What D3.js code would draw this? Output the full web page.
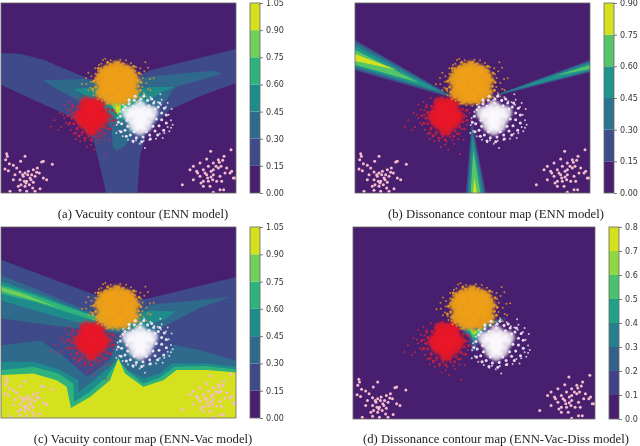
<!DOCTYPE html>
<html>
<head>
<meta charset="utf-8">
<script src="https://cdn.jsdelivr.net/npm/d3@7"></script>
<style>
  html, body { margin: 0; padding: 0; background: #fff; }
  svg { display: block; filter: blur(0.35px); }
</style>
</head>
<body>
<div id="chart"></div>
<script>
// contour band colours and tick labels for each colorbar
var ticksSeven = [0, 0.15, 0.30, 0.45, 0.60, 0.75, 0.90, 1.05];
var ticksSix = [0, 0.15, 0.30, 0.45, 0.60, 0.75, 0.90];
var ticksEight = [0, 0.1, 0.2, 0.3, 0.4, 0.5, 0.6, 0.7, 0.8];
var colorsSeven = ["#481e6e", "#3e4a89", "#2f6a8d", "#1f8c8c", "#2eb37c", "#6fcf58", "#d5e11f"];
var colorsSix = ["#481e6e", "#3d4d8a", "#2b748e", "#20938c", "#55c667", "#d5e11f"];
var colorsEight = ["#481e6e", "#424086", "#35608d", "#277f8e", "#1fa088", "#4ac16d", "#8fd744", "#d5e11f"];

// contour regions, [band, outline] on a 705 x 570 plot grid
var vacuityEnn = [
  [1, [[0,150],[57,152],[127,170],[257,225],[347,250],[447,202],[705,138],[705,240],[597,280],[507,320],[437,390],[417,460],[409,570],[315,570],[297,490],[277,410],[217,345],[97,290],[0,245]]],
  [2, [[127,232],[247,228],[347,250],[447,220],[637,203],[662,212],[587,235],[522,252],[497,290],[397,390],[372,430],[347,443],[335,430],[332,375],[297,330],[207,280],[162,255]]],
  [3, [[217,258],[297,252],[347,275],[447,252],[522,252],[487,265],[417,310],[357,360],[327,330],[277,290]]],
  [4, [[297,270],[347,285],[417,270],[377,320],[352,340],[332,310]]],
  [5, [[332,295],[362,295],[360,325],[350,335],[338,318]]],
  [6, [[343,305],[358,305],[355,328],[348,332]]]
];
var dissonanceEnn = [
  [1, [[0,110],[310,290],[0,202]]],
  [1, [[400,285],[705,170],[705,208]]],
  [1, [[350,355],[393,570],[333,570]]],
  [2, [[0,118],[285,278],[0,196]]],
  [2, [[420,277],[705,175],[705,205]]],
  [2, [[351,370],[388,570],[337,570]]],
  [3, [[0,128],[260,268],[0,190]]],
  [3, [[470,262],[705,180],[705,202]]],
  [3, [[353,400],[382,570],[342,570]]],
  [4, [[0,140],[195,240],[0,185]]],
  [4, [[600,218],[705,186],[705,198]]],
  [4, [[355,440],[376,570],[347,570]]],
  [5, [[0,153],[125,200],[0,174]]],
  [5, [[358,525],[366,570],[354,570]]]
];
var vacuityEnnVac = [
  [1, [[0,98],[267,197],[357,227],[447,212],[705,149],[705,570],[0,570]]],
  [2, [[0,144],[97,182],[257,249],[347,287],[447,232],[687,209],[597,242],[507,287],[437,327],[357,317],[277,307],[177,297],[0,272]]],
  [2, [[0,354],[117,339],[177,377],[259,447],[327,397],[352,327],[397,387],[437,407],[497,377],[517,352],[597,367],[705,399],[705,570],[0,570]]],
  [3, [[0,162],[117,202],[257,257],[347,282],[447,249],[522,252],[497,272],[417,302],[357,307],[277,297],[147,262],[0,219]]],
  [3, [[0,402],[97,402],[177,427],[232,457],[232,492],[267,467],[327,417],[352,387],[377,427],[427,452],[477,437],[512,407],[617,407],[705,417],[705,570],[0,570]]],
  [4, [[0,172],[97,202],[247,255],[347,282],[427,272],[347,297],[257,272],[97,222],[0,199]]],
  [4, [[0,427],[97,417],[172,437],[217,467],[219,522],[267,492],[317,447],[352,397],[382,432],[427,467],[477,449],[522,417],[617,415],[705,425],[705,570],[0,570]]],
  [5, [[0,179],[60,197],[175,242],[60,208],[0,192]]],
  [6, [[0,442],[97,437],[167,457],[197,477],[210,540],[267,507],[327,457],[352,392],[372,437],[427,477],[487,457],[527,427],[617,427],[705,434],[705,570],[0,570]]]
];
var dissonanceEnnVacDiss = [
  [1, [[284,275],[321,279],[360,294],[389,279],[447,268],[442,279],[399,299],[370,324],[360,369],[345,369],[336,329],[307,299]]],
  [2, [[292,279],[323,284],[360,299],[394,282],[437,272],[399,294],[368,324],[355,364],[342,329],[311,299]]],
  [3, [[306,286],[326,292],[360,302],[399,284],[423,276],[389,296],[365,324],[353,349],[345,329],[321,304]]],
  [4, [[321,294],[360,306],[394,289],[363,324],[352,339],[336,309]]],
  [5, [[336,299],[360,306],[379,299],[360,322],[350,329]]],
  [6, [[342,304],[360,309],[370,304],[355,319],[348,319]]],
  [7, [[352,309],[360,311],[355,316]]]
];

// scatter points on the same grid; core lists are the dense middle of each cloud
var orangeCore = [[347,240],[325,228],[370,228],[347,212],[318,252],[378,252],[347,268],[325,205],[372,205],[302,232],[394,232],[306,268],[392,268],[328,282],[368,282],[347,195],[325,250],[370,250],[347,225],[347,284],[312,212],[384,212]];
var orangeMid = [[290,215],[296,238],[284,252],[288,268],[298,282],[312,290],[328,296],[346,298],[364,296],[380,290],[396,280],[406,266],[412,250],[410,232],[404,216],[394,202],[380,192],[364,184],[346,182],[328,184],[312,192],[300,202],[278,235],[275,258],[420,238],[418,262],[414,210],[398,190],[352,178],[320,178],[292,196],[300,250],[306,222],[318,238],[334,214],[358,204],[382,222],[388,246],[374,270],[356,258],[336,272],[314,272],[340,236],[362,238],[402,250],[296,262],[286,226],[408,282],[322,300],[372,300]];
var orangeScatter = [[313,167],[375,172],[390,180],[433,178],[294,186],[342,176],[405,192],[262,209],[430,205],[418,196],[447,228],[458,226],[271,220],[256,243],[262,262],[270,236],[283,196],[301,182],[329,172],[358,170],[368,181],[388,192],[402,204],[420,214],[436,240],[442,258],[428,270],[417,283],[408,296],[290,289],[278,276],[268,254],[283,212],[300,196],[317,188],[336,190],[354,192],[374,188],[282,232],[292,204],[416,232],[424,252],[410,268],[276,265],[287,278],[302,293],[315,302],[334,306],[352,308],[369,303],[388,297],[402,284],[243,244],[449,262],[436,280],[255,225],[441,194],[425,225],[306,171]];
var redCore = [[272,335],[252,322],[292,322],[272,308],[238,340],[306,340],[272,362],[250,358],[294,358],[258,302],[290,302],[272,378],[252,340],[292,340],[272,350],[272,322]];
var redMid = [[230,310],[218,328],[212,345],[218,362],[228,378],[244,388],[262,394],[282,392],[300,384],[314,372],[324,356],[328,338],[322,318],[310,304],[296,294],[276,290],[256,290],[240,298],[228,342],[232,360],[242,322],[304,320],[310,358],[262,378],[286,378],[206,360],[200,338],[214,312],[234,398],[252,406],[270,410],[296,400],[312,392],[328,378],[336,352],[334,322],[224,390]];
var redScatter = [[205,297],[227,286],[242,288],[260,284],[290,280],[315,290],[215,305],[198,320],[186,335],[160,352],[150,371],[190,345],[202,365],[172,380],[228,375],[210,380],[242,395],[262,402],[285,402],[305,392],[320,378],[335,365],[335,340],[338,322],[328,302],[238,415],[258,432],[270,425],[298,422],[315,453],[207,335],[195,360],[218,392],[233,400],[252,413],[275,415],[292,412],[310,408],[344,330],[190,305],[280,440],[208,322],[180,372],[224,408],[348,352],[176,330],[326,410]];
var whiteCore = [[417,335],[400,325],[434,325],[417,312],[392,345],[444,345],[417,358],[402,368],[434,368],[382,330],[452,328],[417,378],[417,345]];
var whiteMid = [[366,320],[358,340],[362,362],[372,382],[388,396],[406,404],[426,402],[446,396],[462,384],[474,368],[482,350],[482,330],[472,312],[458,300],[440,292],[420,288],[400,292],[384,302],[372,312],[378,352],[380,370],[400,386],[436,386],[456,370],[466,348],[462,318],[444,308],[418,300],[396,310],[352,358],[360,386],[376,400],[396,414],[422,416],[448,408],[470,396],[488,382],[496,360],[496,336],[490,316],[476,300],[452,288],[428,280],[402,280],[384,290]];
var whiteScatter = [[470,298],[478,274],[482,290],[448,283],[430,275],[404,280],[384,295],[366,305],[358,326],[350,345],[347,366],[355,384],[365,400],[381,410],[397,418],[416,422],[432,435],[445,410],[465,407],[485,405],[490,390],[505,385],[515,365],[510,352],[503,335],[512,318],[495,312],[480,305],[460,295],[440,295],[415,292],[500,300],[510,374],[500,372],[346,390],[405,412],[428,413],[476,392]];
var pinkLeft = [[17,452],[19,460],[14,470],[72,460],[59,475],[122,477],[127,475],[154,484],[25,482],[37,487],[12,498],[22,503],[47,495],[57,507],[72,510],[82,505],[97,500],[109,495],[115,510],[102,520],[87,525],[67,520],[57,530],[37,530],[77,535],[97,538],[127,525],[137,530],[117,557],[102,565],[77,565],[57,562],[72,550],[52,550],[27,565],[65,515],[80,515],[92,515],[70,535],[85,545],[95,555],[60,545],[42,515],[107,508],[75,540],[90,530]];
var pinkRight = [[629,445],[690,440],[669,460],[652,470],[637,480],[617,468],[597,480],[577,490],[567,500],[587,505],[607,500],[622,490],[637,500],[652,495],[677,495],[692,505],[697,525],[672,510],[657,520],[637,515],[617,515],[597,520],[577,530],[607,535],[622,535],[647,535],[662,535],[544,545],[607,550],[627,550],[657,560],[637,568],[687,510],[702,525],[630,505],[645,490],[620,525],[612,510],[655,478],[600,540],[635,530],[665,472],[660,490],[668,560],[590,510],[630,522]];

// where each panel sits on the page
var panels = [
  { x: 1, y: 3, w: 235, h: 190, cbx: 250, ticks: ticksSeven, colors: colorsSeven, regions: vacuityEnn, cap: "(a) Vacuity contour (ENN model)", capx: 143, capy: 218 },
  { x: 355, y: 3, w: 235, h: 190, cbx: 604, ticks: ticksSix, colors: colorsSix, regions: dissonanceEnn, cap: "(b) Dissonance contour map (ENN model)", capx: 496, capy: 218 },
  { x: 1, y: 227, w: 235, h: 191, cbx: 250, ticks: ticksSeven, colors: colorsSeven, regions: vacuityEnnVac, cap: "(c) Vacuity contour map (ENN-Vac model)", capx: 143, capy: 443 },
  { x: 353, y: 227, w: 242, h: 192, cbx: 609, ticks: ticksEight, colors: colorsEight, regions: dissonanceEnnVacDiss, cap: "(d) Dissonance contour map (ENN-Vac-Diss model)", capx: 496, capy: 443 }
];

var svg = d3.select("#chart")
  .append("svg")
  .attr("width", 640)
  .attr("height", 446);

// soft edge for the dense part of the clouds
svg.append("defs")
  .append("filter")
  .attr("id", "soft")
  .attr("x", "-30%")
  .attr("y", "-30%")
  .attr("width", "160%")
  .attr("height", "160%")
  .append("feGaussianBlur")
  .attr("stdDeviation", 1.8);

panels.forEach(function(p) {
  var xScale = d3.scaleLinear().domain([0, 705]).range([p.x, p.x + p.w]);
  var yScale = d3.scaleLinear().domain([0, 570]).range([p.y, p.y + p.h]);
  var outline = d3.line()
    .x(function(d) { return xScale(d[0]); })
    .y(function(d) { return yScale(d[1]); })
    .curve(d3.curveLinearClosed);

  var g = svg.append("g");

  // background band
  g.append("rect")
    .attr("x", p.x)
    .attr("y", p.y)
    .attr("width", p.w)
    .attr("height", p.h)
    .attr("fill", p.colors[0]);

  g.selectAll("path.band")
    .data(p.regions)
    .enter()
    .append("path")
    .attr("class", "band")
    .attr("d", function(d) { return outline(d[1]); })
    .attr("fill", function(d) { return p.colors[d[0]]; });

  // the scatter clouds
  function drawDots(points, color, r, opacity, soft) {
    var dots = g.append("g");
    if (soft) dots.attr("filter", "url(#soft)");
    dots.selectAll("circle")
      .data(points)
      .enter()
      .append("circle")
      .attr("cx", function(d) { return xScale(d[0]); })
      .attr("cy", function(d) { return yScale(d[1]); })
      .attr("r", r)
      .attr("fill", color)
      .attr("fill-opacity", opacity);
  }
  drawDots(redCore, "#e81426", 7, 0.9, true);
  drawDots(redMid, "#d01c3a", 1.5, 0.9);
  drawDots(redScatter, "#c92a48", 1, 0.85);
  drawDots(orangeCore, "#ee9f14", 7, 0.95, true);
  drawDots(orangeMid, "#e49a22", 1.5, 0.95);
  drawDots(orangeScatter, "#d9962e", 1, 0.85);
  drawDots(whiteCore, "#fbf9fd", 6.5, 0.8, true);
  drawDots(whiteMid, "#f0e9f4", 1.5, 0.95);
  drawDots(whiteScatter, "#e8dfee", 1, 0.85);
  drawDots(pinkLeft, "#f6bccb", 1.5, 1);
  drawDots(pinkRight, "#f6bccb", 1.5, 1);

  g.append("rect")
    .attr("x", p.x)
    .attr("y", p.y)
    .attr("width", p.w)
    .attr("height", p.h)
    .attr("fill", "none")
    .attr("stroke", "#666")
    .attr("stroke-width", 0.8);

  // colorbar
  var cbScale = d3.scaleLinear()
    .domain([p.ticks[0], p.ticks[p.ticks.length - 1]])
    .range([p.y + p.h, p.y]);

  g.selectAll("rect.cell")
    .data(p.colors)
    .enter()
    .append("rect")
    .attr("class", "cell")
    .attr("x", p.cbx)
    .attr("y", function(d, i) { return cbScale(p.ticks[i + 1]); })
    .attr("width", 10)
    .attr("height", function(d, i) { return cbScale(p.ticks[i]) - cbScale(p.ticks[i + 1]); })
    .attr("fill", function(d) { return d; });

  g.append("rect")
    .attr("x", p.cbx)
    .attr("y", p.y)
    .attr("width", 10)
    .attr("height", p.h)
    .attr("fill", "none")
    .attr("stroke", "#666")
    .attr("stroke-width", 0.8);

  var cbAxis = g.append("g")
    .attr("transform", "translate(" + (p.cbx + 10) + ",0)")
    .call(d3.axisRight(cbScale)
      .tickValues(p.ticks)
      .tickFormat(d3.format(p.ticks === ticksEight ? ".1f" : ".2f"))
      .tickSize(3)
      .tickPadding(3));
  cbAxis.select(".domain").remove();
  cbAxis.selectAll("line").attr("stroke", "#444").attr("stroke-width", 0.7);
  cbAxis.selectAll("text")
    .attr("font-family", "'DejaVu Sans', sans-serif")
    .attr("font-size", "8px")
    .attr("fill", "#333");

  // caption under the panel
  svg.append("text")
    .attr("x", p.capx)
    .attr("y", p.capy)
    .attr("text-anchor", "middle")
    .attr("font-family", "'Liberation Serif', serif")
    .attr("font-size", "12.7px")
    .attr("fill", "#222")
    .text(p.cap);
});
</script>
</body>
</html>
